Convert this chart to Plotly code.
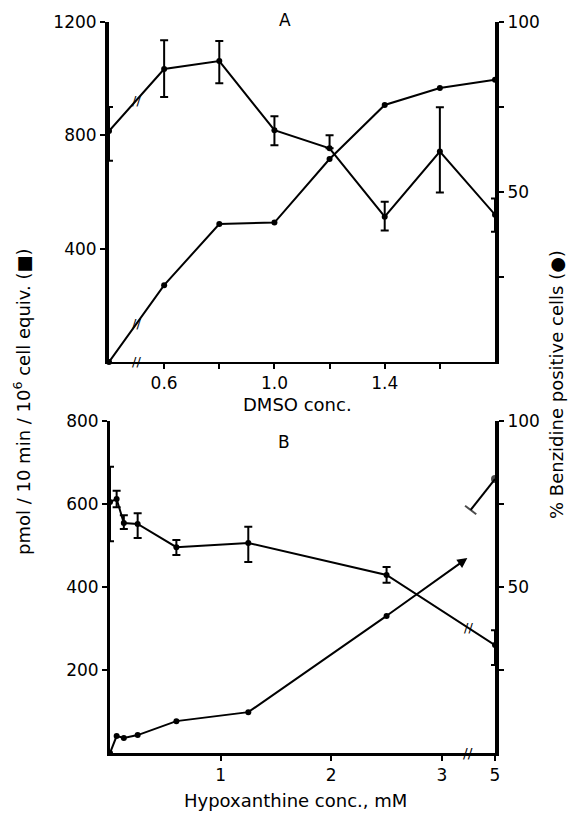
import numpy as np
import plotly.graph_objects as go

# ---------------- data ----------------
# Panel A: DMSO concentration series (first point = control, drawn at broken origin)
dmso_conc = [0, 0.6, 0.8, 1.0, 1.2, 1.4, 1.6, 1.8]
a_pmol = [815, 1034, 1062, 818, 754, 513, 743, 520]
a_pmol_err_plus = [85, 102, 71, 49, 46, 53, 156, 57]
a_pmol_err_minus = [105, 99, 78, 53, 0, 49, 145, 60]
a_pct = [0, 22.6, 40.6, 41.0, 59.7, 75.6, 80.6, 83.0]

# Panel B: hypoxanthine concentration series (mM)
hx_conc = [0, 0.06, 0.125, 0.25, 0.6, 1.25, 2.5, 5]
b_pmol = [605, 612, 554, 552, 496, 506, 429, 260]
b_pmol_err_plus = [85, 20, 19, 26, 17, 39, 19, 36]
b_pmol_err_minus = [95, 20, 14, 34, 19, 46, 19, 48]
b_pct = [0, 5.1, 4.5, 5.4, 9.6, 12.3, 41.3, 82.5]
b_pct_break_ends = [58.7, 73.2]   # ends of the broken segment 2.5 -> 5 mM

a_xtick_vals = [0.6, 0.8, 1.0, 1.2, 1.4, 1.6]
a_xtick_text = ["0.6", "", "1.0", "", "1.4", ""]
a_ytick_vals = [400, 800, 1200]
a_y2tick_vals = [25, 50, 75, 100]
a_y2tick_text = ["", "50", "", "100"]
b_xtick_vals = [1, 2, 3, 5]
b_xtick_text = ["1", "2", "3", "5"]
b_ytick_vals = [200, 400, 600, 800]
b_y2tick_vals = [25, 50, 75, 100]
b_y2tick_text = ["", "50", "", "100"]

# ---------------- axis breaks ----------------
A_ORIGIN = 0.4
A_BREAK = 0.5
B_FIVE_POS = 3.48
B_BREAK = 3.24


def a_pos(v):
    v = np.asarray(v, float)
    return np.where(v == 0, A_ORIGIN, v)


def b_pos(v):
    v = np.asarray(v, float)
    return np.where(v >= 5, B_FIVE_POS, v)


FONT = "DejaVu Sans"
W, H = 572, 814

fig = go.Figure()

err_style = dict(type="data", symmetric=False, thickness=2, width=4, color="black")
line_style = dict(color="black", width=2)
mk = dict(color="black", size=6, symbol="circle")

# Panel A
fig.add_trace(go.Scatter(x=a_pos(dmso_conc), y=a_pmol, mode="lines+markers",
                         line=line_style, marker=mk, xaxis="x", yaxis="y", cliponaxis=False,
                         error_y=dict(array=a_pmol_err_plus, arrayminus=a_pmol_err_minus, **err_style)))
fig.add_trace(go.Scatter(x=a_pos(dmso_conc), y=a_pct, mode="lines+markers",
                         line=line_style, marker=mk, xaxis="x", yaxis="y2", cliponaxis=False))

# Panel B
fig.add_trace(go.Scatter(x=b_pos(hx_conc), y=b_pmol, mode="lines+markers",
                         line=line_style, marker=mk, xaxis="x2", yaxis="y3", cliponaxis=False,
                         error_y=dict(array=b_pmol_err_plus, arrayminus=b_pmol_err_minus, **err_style)))
fig.add_trace(go.Scatter(x=b_pos(hx_conc[:-1]), y=b_pct[:-1], mode="lines+markers",
                         line=line_style, marker=mk, xaxis="x2", yaxis="y4", cliponaxis=False))
# segment after the break up to the 5 mM point
fig.add_trace(go.Scatter(x=[B_BREAK + 0.02, float(b_pos([hx_conc[-1]])[0])],
                         y=[b_pct_break_ends[1], b_pct[-1]], mode="lines+markers",
                         line=line_style,
                         marker=dict(color="black", size=[10, 6], symbol=["line-ew-open", "circle"],
                                     angle=[37, 0], line=dict(width=2, color="black")),
                         xaxis="x2", yaxis="y4", cliponaxis=False))

annotations = []
# arrow on the broken segment 2.5 mM -> break
annotations.append(dict(x=B_BREAK - 0.01, y=b_pct_break_ends[0], xref="x2", yref="y4",
                        ax=float(b_pos([hx_conc[-2]])[0]), ay=b_pct[-2], axref="x2", ayref="y4",
                        showarrow=True, arrowhead=2, arrowsize=1, arrowwidth=2, arrowcolor="black",
                        text="", standoff=0, startstandoff=0))

# break marks
hash_font = dict(family=FONT, size=13, color="black")
xa = a_pos(dmso_conc[:2])
annotations += [
    dict(x=A_BREAK, y=float(np.interp(A_BREAK, xa, a_pmol[:2])), xref="x", yref="y", text="//",
         showarrow=False, font=hash_font),
    dict(x=A_BREAK, y=float(np.interp(A_BREAK, xa, a_pct[:2])), xref="x", yref="y2", text="//",
         showarrow=False, font=hash_font),
    dict(x=A_BREAK, y=0, xref="x", yref="y", text="//", showarrow=False, font=hash_font),
]
xb = b_pos(hx_conc[-2:])
annotations += [
    dict(x=B_BREAK, y=float(np.interp(B_BREAK, xb, b_pmol[-2:])), xref="x2", yref="y3", text="//",
         showarrow=False, font=hash_font),
    dict(x=B_BREAK, y=0, xref="x2", yref="y3", text="//", showarrow=False,
         font=dict(family=FONT, size=14, color="black")),
]

title_font = dict(family=FONT, size=18, color="black")
cc = dict(xref="paper", yref="paper", xanchor="center", yanchor="middle", showarrow=False)
annotations += [
    dict(x=285 / W, y=1 - 20 / H, text="A", font=dict(family=FONT, size=17, color="black"), **cc),
    dict(x=284 / W, y=1 - 442 / H, text="B", font=dict(family=FONT, size=17, color="black"), **cc),
    dict(x=297 / W, y=1 - 405 / H, text="DMSO conc.", font=title_font, **cc),
    dict(x=295 / W, y=1 - 800 / H, text="Hypoxanthine conc., mM", font=title_font, **cc),
    dict(x=22 / W, y=1 - 402 / H, text="pmol / 10 min / 10<sup>6</sup> cell equiv. (■)",
         textangle=-90, font=title_font, **cc),
    dict(x=556 / W, y=1 - 385 / H, text="% Benzidine positive cells (●)",
         textangle=-90, font=title_font, **cc),
]

tick_font = dict(family=FONT, size=17, color="black")
ax_common = dict(showgrid=False, zeroline=False, showline=True, linecolor="black",
                 ticks="outside", ticklen=5, tickwidth=2, tickcolor="black", tickfont=tick_font,
                 automargin=False)

fig.update_layout(
    width=W, height=H,
    autosize=False,
    margin=dict(l=0, r=0, t=0, b=0, pad=0),
    paper_bgcolor="white", plot_bgcolor="white",
    showlegend=False,
    hovermode=False,
    annotations=annotations,
    xaxis=dict(domain=[109 / W, 495 / W], range=[A_ORIGIN, 1.8], anchor="y",
               tickvals=a_xtick_vals, ticktext=a_xtick_text, linewidth=2, **ax_common),
    yaxis=dict(domain=[1 - 362 / H, 1 - 22 / H], range=[0, 1200], anchor="x",
               tickvals=a_ytick_vals, linewidth=4, **ax_common),
    yaxis2=dict(overlaying="y", side="right", anchor="x", range=[0, 100],
                tickvals=a_y2tick_vals, ticktext=a_y2tick_text, linewidth=4, **ax_common),
    xaxis2=dict(domain=[110 / W, 495 / W], range=[0, B_FIVE_POS], anchor="y3",
                tickvals=b_pos(b_xtick_vals), ticktext=b_xtick_text, linewidth=3, **ax_common),
    yaxis3=dict(domain=[1 - 753 / H, 1 - 421 / H], range=[0, 800], anchor="x2",
                tickvals=b_ytick_vals, linewidth=3, **ax_common),
    yaxis4=dict(overlaying="y3", side="right", anchor="x2", range=[0, 100],
                tickvals=b_y2tick_vals, ticktext=b_y2tick_text, linewidth=4, **ax_common),
)

fig.write_html("out.html",
               config={"displayModeBar": False, "staticPlot": True},
               post_script="document.body.style.margin='0';document.body.style.overflow='hidden';")
